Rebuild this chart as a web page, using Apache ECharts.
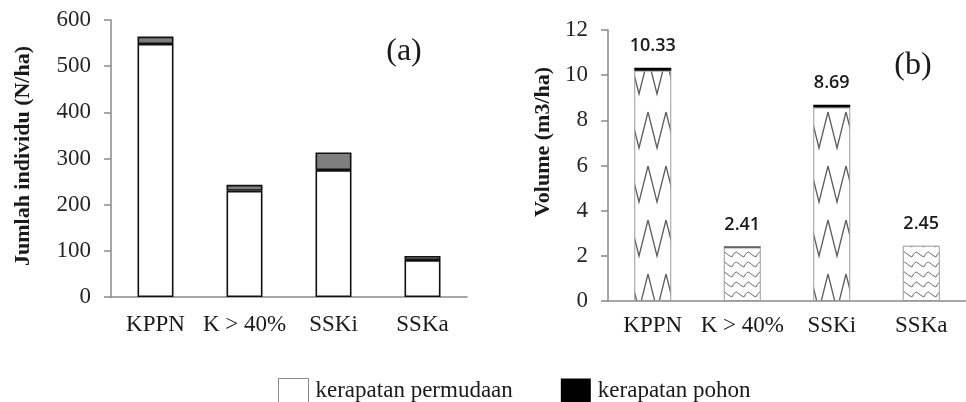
<!DOCTYPE html>
<html>
<head>
<meta charset="utf-8">
<script src="https://cdn.jsdelivr.net/npm/echarts@6/dist/echarts.min.js"></script>
<style>
  html, body { margin: 0; padding: 0; background: #fff; }
  #chart { width: 966px; height: 402px; }
</style>
</head>
<body>
<div id="chart"></div>
<script>
const categories = ["KPPN", "K > 40%", "SSKi", "SSKa"];

// (a) Jumlah individu (N/ha)
const indivPermudaan = [548, 230, 275, 80];
const indivPohon = [16, 13, 38, 9];
const indivTicks = [0, 100, 200, 300, 400, 500, 600];

// (b) Volume (m3/ha)
const volPermudaan = [10.2, 2.37, 8.57, 2.45];
const volPohon = [0.13, 0.04, 0.12, 0];
const volLabels = ["10.33", "2.41", "8.69", "2.45"];
const volTicks = [0, 2, 4, 6, 8, 10, 12];

const legendNames = ["kerapatan permudaan", "kerapatan pohon"];

const SERIF = "'Liberation Serif', 'DejaVu Serif', serif";
const AXIS_GRAY = "#8a8a8a";

// hatch patterns for panel (b)
function tallZigzag() {
  const c = document.createElement("canvas");
  c.width = 18;
  c.height = 54;
  const ctx = c.getContext("2d");
  ctx.fillStyle = "#fff";
  ctx.fillRect(0, 0, c.width, c.height);
  ctx.strokeStyle = "#5e5e5e";
  ctx.lineWidth = 1.3;
  ctx.beginPath();
  ctx.moveTo(0, 4);
  ctx.lineTo(9, 40);
  ctx.lineTo(18, 4);
  ctx.stroke();
  return c;
}

function smallWave() {
  const c = document.createElement("canvas");
  c.width = 12;
  c.height = 10;
  const ctx = c.getContext("2d");
  ctx.fillStyle = "#fff";
  ctx.fillRect(0, 0, c.width, c.height);
  ctx.strokeStyle = "#6e6e6e";
  ctx.lineWidth = 1;
  ctx.beginPath();
  ctx.moveTo(0, 7);
  ctx.quadraticCurveTo(3, 0, 6, 3);
  ctx.quadraticCurveTo(9, 6, 12, 7);
  ctx.stroke();
  return c;
}

const tallPattern = { image: tallZigzag(), repeat: "repeat" };
const wavePattern = { image: smallWave(), repeat: "repeat" };
const volPatterns = [tallPattern, wavePattern, tallPattern, wavePattern];

function catAxis(gridIndex, margin) {
  return {
    type: "category",
    gridIndex,
    data: categories,
    axisLine: { lineStyle: { color: AXIS_GRAY, width: 1.5 } },
    axisTick: { length: 6, lineStyle: { color: AXIS_GRAY, width: 1.5 } },
    axisLabel: { color: "#1a1a1a", fontFamily: SERIF, fontSize: 23, margin, interval: 0 }
  };
}

function valAxis(gridIndex, ticks) {
  return {
    type: "value",
    gridIndex,
    min: ticks[0],
    max: ticks[ticks.length - 1],
    interval: ticks[1] - ticks[0],
    axisLine: { show: true, lineStyle: { color: AXIS_GRAY, width: 1.5 } },
    axisTick: { show: true, length: 7, lineStyle: { color: AXIS_GRAY, width: 1.5 } },
    axisLabel: { color: "#262626", fontFamily: SERIF, fontSize: 23, margin: 20 },
    splitLine: { show: false }
  };
}

const chart = echarts.init(document.getElementById("chart"), null, { renderer: "canvas" });

chart.setOption({
  backgroundColor: "#fff",
  animation: false,
  grid: [
    { left: 111, top: 20, width: 356, height: 277 },
    { left: 608, top: 30, width: 373, height: 271 }
  ],
  xAxis: [catAxis(0, 16), catAxis(1, 13)],
  yAxis: [valAxis(0, indivTicks), valAxis(1, volTicks)],
  legend: {
    left: 278,
    top: 378,
    padding: 0,
    itemWidth: 30,
    itemHeight: 24,
    itemGap: 48,
    icon: "rect",
    textStyle: { fontFamily: SERIF, fontSize: 23, color: "#1a1a1a", padding: [0, 0, 0, 2] },
    data: [
      { name: legendNames[0], itemStyle: { color: "#fff", borderColor: "#8a8a8a", borderWidth: 1 } },
      { name: legendNames[1], itemStyle: { color: "#000", borderColor: "#000", borderWidth: 0 } }
    ]
  },
  graphic: [
    {
      type: "text", x: 23, y: 156, rotation: Math.PI / 2,
      style: { text: "Jumlah individu (N/ha)", font: "bold 22px " + SERIF, fill: "#1a1a1a", align: "center", verticalAlign: "middle" }
    },
    {
      type: "text", x: 543, y: 142, rotation: Math.PI / 2,
      style: { text: "Volume (m3/ha)", font: "bold 22px " + SERIF, fill: "#1a1a1a", align: "center", verticalAlign: "middle" }
    },
    {
      type: "text", x: 404, y: 52,
      style: { text: "(a)", font: "32px " + SERIF, fill: "#1a1a1a", align: "center", verticalAlign: "middle" }
    },
    {
      type: "text", x: 913, y: 66,
      style: { text: "(b)", font: "32px " + SERIF, fill: "#1a1a1a", align: "center", verticalAlign: "middle" }
    }
  ],
  series: [
    {
      name: legendNames[0],
      type: "bar",
      stack: "a",
      xAxisIndex: 0,
      yAxisIndex: 0,
      barWidth: 36,
      data: indivPermudaan,
      itemStyle: { color: "#fff", borderColor: "#111", borderWidth: 1.6 }
    },
    {
      name: legendNames[1],
      type: "bar",
      stack: "a",
      xAxisIndex: 0,
      yAxisIndex: 0,
      barWidth: 36,
      data: indivPohon,
      itemStyle: { color: "#7f7f7f", borderColor: "#111", borderWidth: 1.6 }
    },
    {
      name: legendNames[0],
      type: "bar",
      stack: "b",
      xAxisIndex: 1,
      yAxisIndex: 1,
      barWidth: 37,
      data: volPermudaan.map((v, i) => ({ value: v, itemStyle: { color: volPatterns[i] } })),
      itemStyle: { borderColor: "#9a9a9a", borderWidth: 1 }
    },
    {
      name: legendNames[1],
      type: "bar",
      stack: "b",
      xAxisIndex: 1,
      yAxisIndex: 1,
      barWidth: 37,
      data: volPohon,
      itemStyle: { color: "#000" },
      label: {
        show: true,
        position: "top",
        distance: 13,
        fontFamily: "'Open Sans', 'Noto Sans', sans-serif",
        fontSize: 18,
        fontWeight: 600,
        color: "#1a1a1a",
        formatter: (p) => volLabels[p.dataIndex]
      }
    }
  ]
});
</script>
</body>
</html>
